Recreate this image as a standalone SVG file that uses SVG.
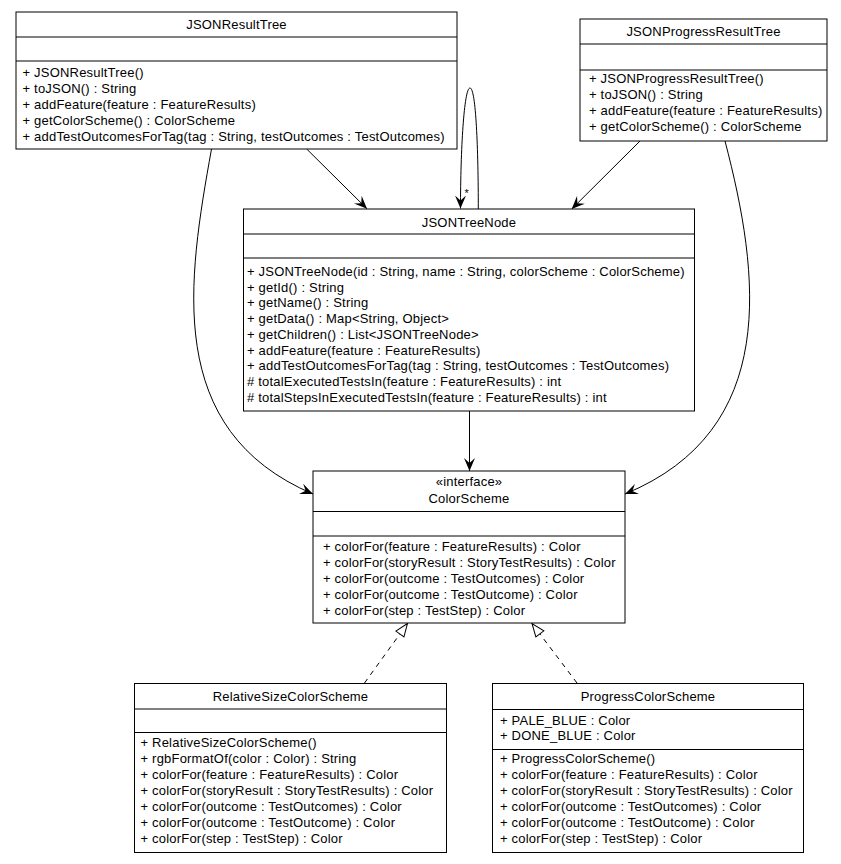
<svg xmlns="http://www.w3.org/2000/svg" width="841" height="864" viewBox="0 0 841 864">
<style>
.box{fill:#fff;stroke:#000;stroke-width:1}
.sep{stroke:#000;stroke-width:1}
.t{font-family:"Liberation Sans",Arial,Helvetica,sans-serif;font-size:13px;letter-spacing:0.2px;fill:#000}
.c{text-anchor:middle}
.edge{fill:none;stroke:#000;stroke-width:1}
.dash{stroke-dasharray:5,5}
</style>
<defs>
<marker id="vee" markerUnits="userSpaceOnUse" markerWidth="13" markerHeight="12" refX="13" refY="6" orient="auto" viewBox="0 0 13 12">
<path d="M0,0.5 L13,6 L0,11.5 L5,6 z" fill="#000" stroke="none"/>
</marker>
<marker id="tri" markerUnits="userSpaceOnUse" markerWidth="15" markerHeight="12" refX="14" refY="6" orient="auto" viewBox="0 0 15 12">
<path d="M1,1 L14,6 L1,11 z" fill="#fff" stroke="#000" stroke-width="1"/>
</marker>
</defs>
<rect width="841" height="864" fill="#fff"/>

<g id="connectors">
<path class="edge" d="M306.7,149 L367,208.8" marker-end="url(#vee)"/>
<path class="edge" d="M640,141 L571.7,209" marker-end="url(#vee)"/>
<path class="edge" d="M469.5,411 L469.5,471" marker-end="url(#vee)"/>
<path class="edge" d="M478.3,209 C478.3,150 476,88 470,88 C464,88 460.5,150 460.5,208.5" marker-end="url(#vee)"/>
<text class="t c" x="466.7" y="197" style="font-size:11px">*</text>
<path class="edge" d="M211.5,149 C188,280 163,430 313,494" marker-end="url(#vee)"/>
<path class="edge" d="M725,141 C760,275 780,430 625,494" marker-end="url(#vee)"/>
<path class="edge dash" d="M364.5,683 L407.5,623.5" marker-end="url(#tri)"/>
<path class="edge dash" d="M577,683 L532,623.5" marker-end="url(#tri)"/>
</g>

<g id="JSONResultTree">
<rect class="box" x="16" y="12" width="441" height="137"/>
<line class="sep" x1="16" y1="37" x2="457" y2="37"/>
<line class="sep" x1="16" y1="61" x2="457" y2="61"/>
<text class="t c" x="236.5" y="29">JSONResultTree</text>
<text class="t" x="22.5" y="77">+ JSONResultTree()</text>
<text class="t" x="22.5" y="93">+ toJSON() : String</text>
<text class="t" x="22.5" y="109">+ addFeature(feature : FeatureResults)</text>
<text class="t" x="22.5" y="125">+ getColorScheme() : ColorScheme</text>
<text class="t" x="22.5" y="141">+ addTestOutcomesForTag(tag : String, testOutcomes : TestOutcomes)</text>
</g>

<g id="JSONProgressResultTree">
<rect class="box" x="580" y="19" width="247" height="122"/>
<line class="sep" x1="580" y1="44" x2="827" y2="44"/>
<line class="sep" x1="580" y1="70" x2="827" y2="70"/>
<text class="t c" x="703.5" y="36">JSONProgressResultTree</text>
<text class="t" x="589" y="83">+ JSONProgressResultTree()</text>
<text class="t" x="589" y="99">+ toJSON() : String</text>
<text class="t" x="589" y="115">+ addFeature(feature : FeatureResults)</text>
<text class="t" x="589" y="131">+ getColorScheme() : ColorScheme</text>
</g>

<g id="JSONTreeNode">
<rect class="box" x="243.5" y="209" width="451" height="202"/>
<line class="sep" x1="243.5" y1="234" x2="694.5" y2="234"/>
<line class="sep" x1="243.5" y1="258" x2="694.5" y2="258"/>
<text class="t c" x="469" y="226.5">JSONTreeNode</text>
<text class="t" x="247" y="276">+ JSONTreeNode(id : String, name : String, colorScheme : ColorScheme)</text>
<text class="t" x="247" y="291.7">+ getId() : String</text>
<text class="t" x="247" y="307.4">+ getName() : String</text>
<text class="t" x="247" y="323.1">+ getData() : Map&lt;String, Object&gt;</text>
<text class="t" x="247" y="338.8">+ getChildren() : List&lt;JSONTreeNode&gt;</text>
<text class="t" x="247" y="354.5">+ addFeature(feature : FeatureResults)</text>
<text class="t" x="247" y="370.2">+ addTestOutcomesForTag(tag : String, testOutcomes : TestOutcomes)</text>
<text class="t" x="247" y="385.9"># totalExecutedTestsIn(feature : FeatureResults) : int</text>
<text class="t" x="247" y="401.6"># totalStepsInExecutedTestsIn(feature : FeatureResults) : int</text>
</g>

<g id="ColorScheme">
<rect class="box" x="313" y="471" width="312" height="152"/>
<line class="sep" x1="313" y1="511.5" x2="625" y2="511.5"/>
<line class="sep" x1="313" y1="536" x2="625" y2="536"/>
<text class="t c" x="469" y="486">«interface»</text>
<text class="t c" x="469" y="502.5">ColorScheme</text>
<text class="t" x="323" y="551">+ colorFor(feature : FeatureResults) : Color</text>
<text class="t" x="323" y="567">+ colorFor(storyResult : StoryTestResults) : Color</text>
<text class="t" x="323" y="583">+ colorFor(outcome : TestOutcomes) : Color</text>
<text class="t" x="323" y="599">+ colorFor(outcome : TestOutcome) : Color</text>
<text class="t" x="323" y="615">+ colorFor(step : TestStep) : Color</text>
</g>

<g id="RelativeSizeColorScheme">
<rect class="box" x="134.5" y="683.5" width="312" height="169"/>
<line class="sep" x1="134.5" y1="709" x2="446.5" y2="709"/>
<line class="sep" x1="134.5" y1="732.5" x2="446.5" y2="732.5"/>
<text class="t c" x="290.5" y="701">RelativeSizeColorScheme</text>
<text class="t" x="140.5" y="747">+ RelativeSizeColorScheme()</text>
<text class="t" x="140.5" y="763">+ rgbFormatOf(color : Color) : String</text>
<text class="t" x="140.5" y="779">+ colorFor(feature : FeatureResults) : Color</text>
<text class="t" x="140.5" y="795">+ colorFor(storyResult : StoryTestResults) : Color</text>
<text class="t" x="140.5" y="811">+ colorFor(outcome : TestOutcomes) : Color</text>
<text class="t" x="140.5" y="827">+ colorFor(outcome : TestOutcome) : Color</text>
<text class="t" x="140.5" y="843">+ colorFor(step : TestStep) : Color</text>
</g>

<g id="ProgressColorScheme">
<rect class="box" x="492.5" y="683.5" width="311" height="169"/>
<line class="sep" x1="492.5" y1="709.5" x2="803.5" y2="709.5"/>
<line class="sep" x1="492.5" y1="749.5" x2="803.5" y2="749.5"/>
<text class="t c" x="648" y="701">ProgressColorScheme</text>
<text class="t" x="500" y="724.5">+ PALE_BLUE : Color</text>
<text class="t" x="500" y="740">+ DONE_BLUE : Color</text>
<text class="t" x="500" y="763">+ ProgressColorScheme()</text>
<text class="t" x="500" y="779">+ colorFor(feature : FeatureResults) : Color</text>
<text class="t" x="500" y="795">+ colorFor(storyResult : StoryTestResults) : Color</text>
<text class="t" x="500" y="811">+ colorFor(outcome : TestOutcomes) : Color</text>
<text class="t" x="500" y="827">+ colorFor(outcome : TestOutcome) : Color</text>
<text class="t" x="500" y="843">+ colorFor(step : TestStep) : Color</text>
</g>
</svg>
